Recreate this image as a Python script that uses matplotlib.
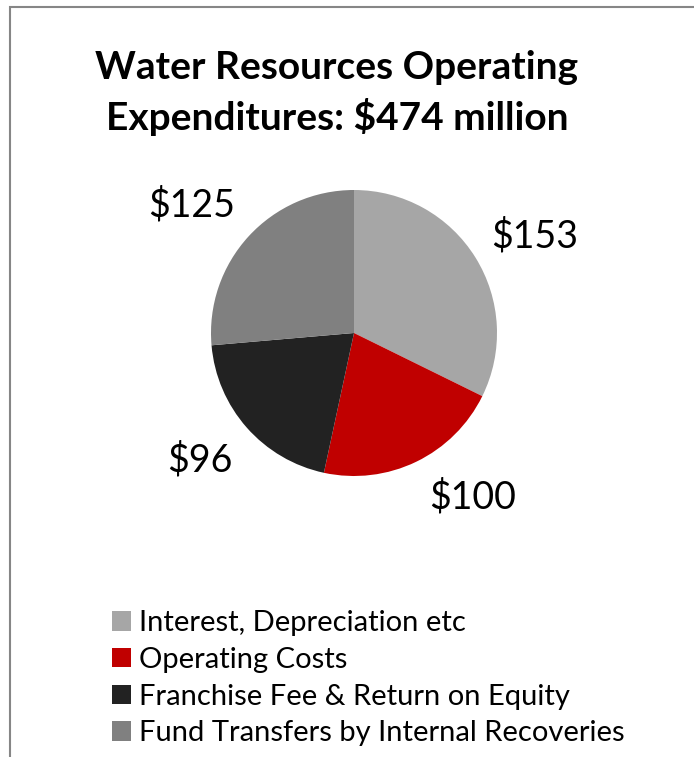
import matplotlib.pyplot as plt
from matplotlib.patches import Rectangle

plt.rcParams['font.family'] = ['Lato', 'DejaVu Sans']

categories = ["Interest, Depreciation etc", "Operating Costs",
              "Franchise Fee & Return on Equity", "Fund Transfers by Internal Recoveries"]
values = [153, 100, 96, 125]
colors = ["#a6a6a6", "#c00000", "#222222", "#808080"]
total = 474

W, H = 694, 757
cx, cy = 354, H - 333
fig = plt.figure(figsize=(W / 100, H / 100), dpi=100)
ax = fig.add_axes([0, 0, 1, 1])

# outer frame (cut off at the right and bottom like the original)
fig.patches.append(Rectangle((10 / W, -0.1), 1.2, (H - 7) / H + 0.1, transform=fig.transFigure,
                             fill=False, edgecolor="#868686", linewidth=1.5))

wedges, texts = ax.pie(values, colors=colors, startangle=90, counterclock=False,
                       center=(cx, cy), radius=143, frame=True,
                       labels=[f"${v}" for v in values], labeldistance=1.42,
                       textprops=dict(fontsize=27, color="black"))
# nudge labels to where Excel put them (offsets from pie centre, px)
label_offsets = [(181, 97), (119, -164), (-154, -127), (-162, 128)]
for t, (dx, dy) in zip(texts, label_offsets):
    t.set_ha("center")
    t.set_position((cx + dx, cy + dy))
ax.set_xlim(0, W)
ax.set_ylim(0, H)
ax.set_aspect("equal")
ax.axis("off")

fig.text(337 / W, 1 - 93 / H, f"Water Resources Operating\nExpenditures: ${total} million",
         ha="center", va="center", fontsize=28, fontweight="bold", linespacing=1.38)

fig.legend(wedges, categories, loc="upper left", bbox_to_anchor=(112 / W, 1 - 610 / H),
           frameon=False, fontsize=21, handlelength=0.66, handleheight=0.66,
           handletextpad=0.28, labelspacing=0.37, borderpad=0, borderaxespad=0)

fig.savefig("out.png", dpi=100)
